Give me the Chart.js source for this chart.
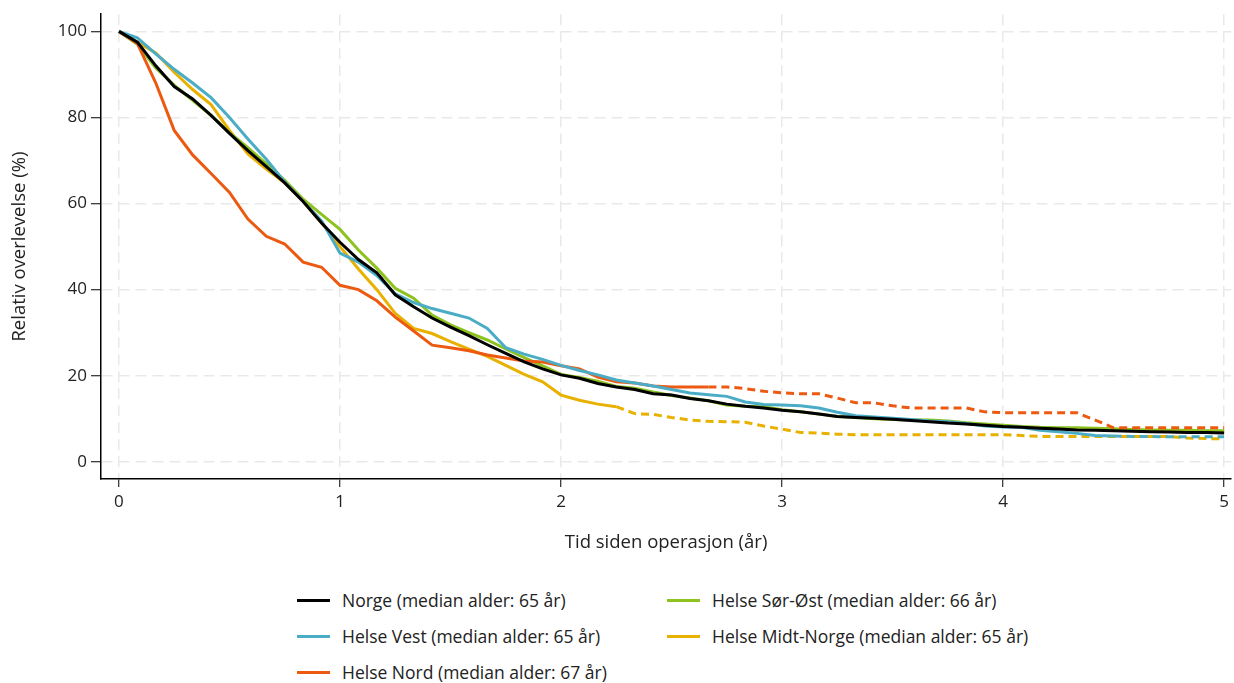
<!DOCTYPE html>
<html lang="no">
<head>
<meta charset="utf-8">
<script src="https://cdn.jsdelivr.net/npm/chart.js@4.4.1/dist/chart.umd.min.js"></script>
<style>
  html, body { margin: 0; padding: 0; background: #fff; }
  body { width: 1234px; height: 683px; position: relative; overflow: hidden; font-family: "Open Sans", sans-serif; }
  #wrap { position: absolute; left: 0; top: 0; width: 1234px; height: 560px; }
  #legend { position: absolute; left: 297px; top: 582px; display: grid; grid-template-rows: 36px 36px 36px; grid-auto-flow: column; grid-template-columns: 370px 400px; }
  .item { display: flex; align-items: center; font-size: 17.5px; color: #222; }
  .item span.sw { display: inline-block; width: 33px; height: 3px; margin-right: 12px; }
</style>
</head>
<body>
<div id="wrap"><canvas id="chart"></canvas></div>
<div id="legend"></div>
<script>
// maaneder siden operasjon (x-akse vises i aar)
const maaned = [0,1,2,3,4,5,6,7,8,9,10,11,12,13,14,15,16,17,18,19,20,21,22,23,24,25,26,27,28,29,30,
  31,32,33,34,35,36,37,38,39,40,41,42,43,44,45,46,47,48,49,50,51,52,53,54,55,56,57,58,59,60];
const aarTicks = [0, 1, 2, 3, 4, 5];
const prosentTicks = [0, 20, 40, 60, 80, 100];

const norge = [100,97.5,92,87.2,84.3,80.5,76.3,72.3,68.6,64.8,60.5,55.5,51,47,43.9,38.8,36,33.4,31.3,29.3,27.2,
  25.2,23.2,21.6,20.2,19.4,18.2,17.4,16.8,15.8,15.5,14.7,14.2,13.4,12.9,12.5,12,11.6,11.1,10.5,10.3,
  10.1,9.9,9.6,9.3,9.0,8.8,8.5,8.2,8.0,7.8,7.6,7.4,7.3,7.2,7.1,7.0,6.9,6.8,6.8,6.7];
const vest = [100,98.5,94.8,91.2,88,84.6,80,75,70.3,65,60.5,56,48.5,46.4,43.3,39,37,35.6,34.5,33.4,31,
  26.5,25,23.8,22.4,21.2,20.2,19,18.3,17.6,16.8,16,15.6,15.2,13.9,13.3,13.2,13,12.5,11.5,10.7,
  10.4,10.1,9.8,9.5,9.3,8.9,8.3,8.1,8.0,7.3,7.0,6.6,6.1,6.0,5.9,5.9,5.8,5.8,5.8,5.8];
const nord = [100,97.2,88,77,71.3,67,62.6,56.4,52.4,50.6,46.4,45.2,41,40,37.4,33.6,30.4,27.1,26.5,25.8,24.8,
  24.1,23.4,23.2,22.3,21.6,19.7,18.6,18.3,17.6,17.4,17.4,17.4,17.4,17.0,16.4,16.0,15.8,15.8,14.8,13.7,
  13.7,13.0,12.5,12.5,12.5,12.5,11.6,11.4,11.4,11.4,11.4,11.4,9.7,7.9,7.9,7.9,7.9,7.9,7.9,7.9];
const sorOst = [100,97,91.5,87.5,84,80.5,76.5,73,69.2,65.4,61,57.5,54,49.2,45,40.3,38,34.1,31.8,30,28.3,
  26.2,24.2,22.3,20.3,19.6,18.7,17.5,17.1,16.2,15.4,14.8,14.2,13.2,12.9,12.8,12.1,11.6,11.1,10.5,10.3,
  10.0,9.8,9.7,9.7,9.5,9.1,8.8,8.5,8.2,8.0,7.9,7.9,7.8,7.7,7.5,7.4,7.3,7.3,7.2,7.2];
const midtNorge = [100,97.5,95,90.5,86.5,83,77,71.5,68,64.8,60.5,55.5,50,44.8,40,34.5,31,29.8,27.9,26.2,24.5,
  22.4,20.3,18.6,15.5,14.3,13.4,12.8,11.2,11.0,10.3,9.7,9.4,9.3,9.2,8.3,7.6,6.8,6.7,6.4,6.3,
  6.3,6.3,6.3,6.3,6.3,6.3,6.3,6.3,6.1,5.9,5.9,5.9,5.9,5.9,5.9,5.9,5.9,5.5,5.4,5.3];

// stiplet fra denne indeksen (faa pasienter igjen)
const serier = [
  { label: 'Norge (median alder: 65 år)', data: norge, color: '#000000', dashFrom: 999 },
  { label: 'Helse Vest (median alder: 65 år)', data: vest, color: '#4bacc6', dashFrom: 54 },
  { label: 'Helse Nord (median alder: 67 år)', data: nord, color: '#ec5a12', dashFrom: 32 },
  { label: 'Helse Sør-Øst (median alder: 66 år)', data: sorOst, color: '#8dc21f', dashFrom: 999 },
  { label: 'Helse Midt-Norge (median alder: 65 år)', data: midtNorge, color: '#e8b100', dashFrom: 27 }
];

const datasets = serier.map(s => ({
  label: s.label,
  data: s.data.map((v, i) => ({ x: maaned[i], y: v })),
  borderColor: s.color,
  backgroundColor: s.color,
  borderWidth: 3,
  pointRadius: 0,
  tension: 0,
  fill: false,
  segment: {
    borderDash: ctx => ctx.p0DataIndex >= s.dashFrom ? [8, 5] : undefined
  }
}));

const tickFont = { family: '"Open Sans", sans-serif', size: 17 };
const titleFont = { family: '"Open Sans", sans-serif', size: 18.5 };

new Chart(document.getElementById('chart'), {
  type: 'line',
  data: { datasets },
  options: {
    responsive: true,
    maintainAspectRatio: false,
    animation: false,
    layout: { padding: { top: 14, right: 0, left: 0, bottom: 0 } },
    plugins: { legend: { display: false }, tooltip: { enabled: false } },
    scales: {
      x: {
        type: 'linear',
        min: -0.975,
        max: 60.38,
        afterBuildTicks: axis => { axis.ticks = aarTicks.map(a => ({ value: a * 12 })); },
        afterFit: axis => { axis.height = 81; },
        ticks: {
          color: '#222',
          font: tickFont,
          padding: 5,
          maxRotation: 0,
          callback: v => String(v / 12)
        },
        grid: { color: '#e9e9e9', lineWidth: 1.5, tickColor: '#000', tickLength: 8, tickWidth: 1 },
        border: { display: true, color: '#000', width: 1.5, dash: [11, 6] },
        title: {
          display: true,
          text: 'Tid siden operasjon (år)',
          color: '#222',
          font: titleFont,
          padding: { top: 0, bottom: 6 }
        }
      },
      y: {
        min: -4,
        max: 104,
        afterBuildTicks: axis => { axis.ticks = prosentTicks.map(v => ({ value: v })); },
        afterFit: axis => { axis.width = 101; },
        ticks: { color: '#222', font: tickFont, padding: 4 },
        grid: { color: '#e9e9e9', lineWidth: 1.5, tickColor: '#000', tickLength: 10, tickWidth: 1 },
        border: { display: true, color: '#000', width: 1.5, dash: [11, 6] },
        title: {
          display: true,
          text: 'Relativ overlevelse (%)',
          color: '#222',
          font: titleFont,
          padding: { top: 9, bottom: 0 }
        }
      }
    }
  }
});

// forklaring under figuren, to kolonner
const legend = document.getElementById('legend');
serier.forEach(s => {
  const item = document.createElement('div');
  item.className = 'item';
  const sw = document.createElement('span');
  sw.className = 'sw';
  sw.style.background = s.color;
  item.appendChild(sw);
  item.appendChild(document.createTextNode(s.label));
  legend.appendChild(item);
});
</script>
</body>
</html>
